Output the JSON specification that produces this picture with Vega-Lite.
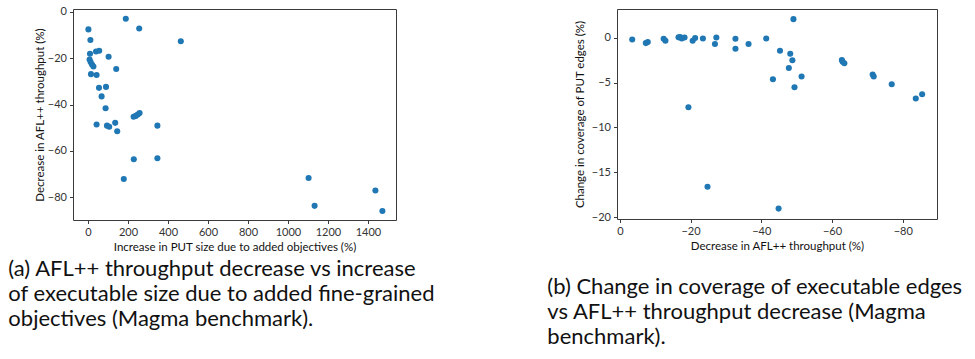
{
  "$schema": "https://vega.github.io/schema/vega-lite/v6.json",
  "background": "white",
  "padding": {"left": 7, "top": 5, "right": 5, "bottom": 5},
  "datasets": {
    "a": [
      {"size": 189, "thr": -3.0}, {"size": 256, "thr": -7.2}, {"size": 2, "thr": -7.6},
      {"size": 464, "thr": -12.7}, {"size": 12, "thr": -12.2}, {"size": 10, "thr": -18.1},
      {"size": 40, "thr": -17.1}, {"size": 56, "thr": -16.8}, {"size": 103, "thr": -19.4},
      {"size": 8, "thr": -20.6}, {"size": 13, "thr": -21.7}, {"size": 20, "thr": -22.7},
      {"size": 27, "thr": -23.6}, {"size": 141, "thr": -24.7}, {"size": 15, "thr": -26.9},
      {"size": 43, "thr": -27.3}, {"size": 55, "thr": -32.8}, {"size": 90, "thr": -32.4},
      {"size": 68, "thr": -36.5}, {"size": 88, "thr": -41.6}, {"size": 43, "thr": -48.6},
      {"size": 95, "thr": -49.1}, {"size": 106, "thr": -49.6}, {"size": 136, "thr": -47.9},
      {"size": 146, "thr": -51.5}, {"size": 228, "thr": -45.3}, {"size": 239, "thr": -44.9},
      {"size": 249, "thr": -44.3}, {"size": 258, "thr": -43.7}, {"size": 347, "thr": -49.1},
      {"size": 229, "thr": -63.6}, {"size": 347, "thr": -63.2}, {"size": 179, "thr": -72.1},
      {"size": 1103, "thr": -71.7}, {"size": 1133, "thr": -83.7}, {"size": 1437, "thr": -77.1},
      {"size": 1472, "thr": -85.9}
    ],
    "b": [
      {"thr": -3.5, "cov": -0.19}, {"thr": -7.35, "cov": -0.6}, {"thr": -7.9, "cov": -0.49},
      {"thr": -12.4, "cov": -0.11}, {"thr": -12.9, "cov": -0.33}, {"thr": -16.6, "cov": 0.04},
      {"thr": -17.05, "cov": 0.07}, {"thr": -17.5, "cov": -0.08}, {"thr": -18.3, "cov": 0.03},
      {"thr": -20.6, "cov": -0.33}, {"thr": -21.3, "cov": -0.04}, {"thr": -23.5, "cov": -0.08},
      {"thr": -26.9, "cov": -0.7}, {"thr": -27.3, "cov": 0.03}, {"thr": -32.7, "cov": -0.11},
      {"thr": -32.7, "cov": -1.22}, {"thr": -36.4, "cov": -0.7}, {"thr": -41.4, "cov": -0.08},
      {"thr": -19.4, "cov": -7.74}, {"thr": -24.8, "cov": -16.6},
      {"thr": -49.1, "cov": 2.07}, {"thr": -45.3, "cov": -1.45}, {"thr": -48.2, "cov": -1.78},
      {"thr": -48.8, "cov": -2.52}, {"thr": -47.8, "cov": -3.37}, {"thr": -43.3, "cov": -4.63},
      {"thr": -51.4, "cov": -4.33}, {"thr": -49.4, "cov": -5.52}, {"thr": -44.9, "cov": -19.04},
      {"thr": -62.8, "cov": -2.48}, {"thr": -63.0, "cov": -2.67}, {"thr": -63.5, "cov": -2.85},
      {"thr": -71.5, "cov": -4.11}, {"thr": -71.8, "cov": -4.33}, {"thr": -76.9, "cov": -5.19},
      {"thr": -83.7, "cov": -6.78}, {"thr": -85.5, "cov": -6.3}
    ]
  },
  "config": {
    "view": {"stroke": "#3a3a3a", "strokeWidth": 1},
    "axis": {
      "grid": false,
      "domain": false,
      "tickColor": "#3a3a3a",
      "tickSize": 3.5,
      "labelFont": "Lato",
      "labelFontSize": 11,
      "labelColor": "#333333",
      "labelPadding": 3,
      "titleFont": "Lato",
      "titleFontSize": 11.5,
      "titleFontWeight": "normal",
      "titleColor": "#111111"
    },
    "concat": {"spacing": 110}
  },
  "hconcat": [
    {
      "width": 323,
      "height": 211,
      "data": {"name": "a"},
      "title": {
        "text": ["(a) AFL++ throughput decrease vs increase", "of executable size due to added fine-grained", "objectives (Magma benchmark)."],
        "orient": "bottom",
        "anchor": "start",
        "frame": "bounds",
        "dx": -26,
        "offset": 6,
        "font": "Lato",
        "fontSize": 22,
        "fontWeight": "normal",
        "lineHeight": 25,
        "color": "#111111"
      },
      "mark": {"type": "circle", "size": 37, "color": "#1f77b4", "opacity": 1},
      "encoding": {
        "x": {
          "field": "size", "type": "quantitative",
          "scale": {"domain": [-75, 1540], "nice": false, "zero": false},
          "axis": {"values": [0, 200, 400, 600, 800, 1000, 1200, 1400], "format": "d", "title": "Increase in PUT size due to added objectives (%)", "titlePadding": 4}
        },
        "y": {
          "field": "thr", "type": "quantitative",
          "scale": {"domain": [-89.8, 1.2], "nice": false, "zero": false},
          "axis": {"values": [0, -20, -40, -60, -80], "title": "Decrease in AFL++ throughput (%)", "titlePadding": 2}
        }
      }
    },
    {
      "width": 320,
      "height": 210,
      "data": {"name": "b"},
      "title": {
        "text": ["(b) Change in coverage of executable edges", "vs AFL++ throughput decrease (Magma", "benchmark)."],
        "orient": "bottom",
        "anchor": "start",
        "frame": "bounds",
        "dx": -27,
        "offset": 25,
        "font": "Lato",
        "fontSize": 22,
        "fontWeight": "normal",
        "lineHeight": 25,
        "color": "#111111"
      },
      "mark": {"type": "circle", "size": 37, "color": "#1f77b4", "opacity": 1},
      "encoding": {
        "x": {
          "field": "thr", "type": "quantitative",
          "scale": {"domain": [-89.7, 0.8], "nice": false, "zero": false, "reverse": true},
          "axis": {"values": [0, -20, -40, -60, -80], "title": "Decrease in AFL++ throughput (%)", "titlePadding": 4}
        },
        "y": {
          "field": "cov", "type": "quantitative",
          "scale": {"domain": [-20.2, 3.2], "nice": false, "zero": false},
          "axis": {"values": [0, -5, -10, -15, -20], "title": "Change in coverage of PUT edges (%)", "titlePadding": 6}
        }
      }
    }
  ]
}
